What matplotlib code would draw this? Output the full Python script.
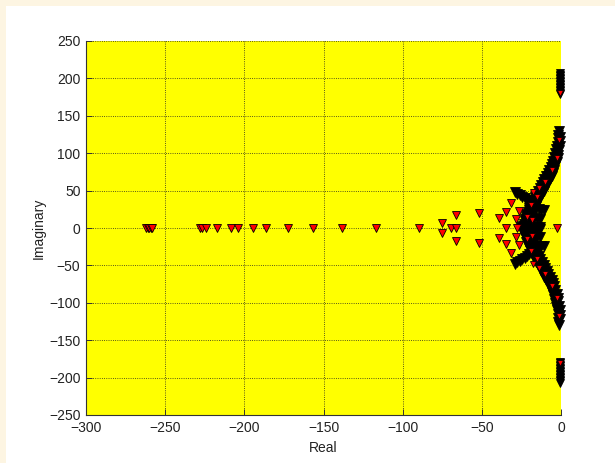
import matplotlib
matplotlib.use("Agg")
import matplotlib.pyplot as plt
from matplotlib.patches import Rectangle

plt.rcParams['font.family'] = ['Liberation Sans', 'DejaVu Sans']

# closed-loop poles
# poles sitting on the real axis
real_re = [-262, -261, -260, -259, -258, -228, -226.5, -224, -217, -208.6,
           -204, -194.3, -186.3, -172.2, -156.8, -138.3, -117, -89.4,
           -69.6, -66.3, -35, -28, -2.6]

# isolated complex pairs (upper half, conjugates drawn too)
pair_re = [-75.3, -66.3, -52, -39, -34.7, -31.8, -26.5, -28.4]
pair_im = [7, 17, 20, 14, 21, 33, 23, 11.6]

# dense branch towards the imaginary axis (upper half)
band_re = [-24, -23.5, -23, -22.5, -22, -21.5, -21, -20.5, -20, -19.5,
           -18.5, -17.5, -16.5, -15.5, -14.5, -13.5, -12.5, -11.5, -10.5,
           -9.5, -8.5, -7.5, -6.5, -5.5, -4.8, -4.2, -3.6, -3.0, -2.6, -2.2,
           -1.9, -1.6, -1.3,
           -20, -19.5, -19, -18.5, -18, -17, -16, -15, -14, -13, -12, -11,
           -10, -9, -8, -7, -6, -5, -4.2, -3.5, -2.8, -2.2, -1.6, -1.2,
           -0.9, -0.7, -0.6,
           -29, -27.5, -26, -24.5, -23, -21.5, -20,
           -19, -17, -15, -13,
           -17, -15, -13,
           -14, -12.5, -11,
           -25, -22, -21.8, -18.2, -15.8, -13.2, -10.8, -8.2, -5.8]
band_im = [3, 6, 9, 12, 15, 18, 21, 24, 27, 30,
           34, 38, 42, 46, 50, 54, 58, 62, 66,
           70, 74, 78, 82, 86, 90, 95, 100, 105, 110, 115,
           120, 125, 130,
           3, 7, 11, 15, 19, 24, 29, 34, 38, 42, 46, 50,
           54, 58, 62, 66, 70, 74, 78, 83, 88, 93, 98, 104,
           110, 116, 122,
           48, 46, 44, 42, 40, 38, 35,
           13.5, 13, 12.5, 12,
           1.5, 1.5, 1.5,
           25, 24.5, 24,
           1, 1, 19, 32, 40, 50, 60, 70, 80]

# cluster right on the imaginary axis near +/-190
top_re = [-0.8] * 15
top_im = [179, 181, 183, 185, 187, 189, 191, 193, 195, 197, 199, 201, 203,
          205, 207]

# red faces still showing inside the dense branch
spot_re = [-17.4, -13.7, -10, -5.9, -2.3, -15.4, -19.2, -21.6, -18.5, -1.2,
           -0.8]
spot_im = [48.5, 53, 62, 77.5, 93, 42, 30.7, 15, 10.7, 118, 180]

fig = plt.figure(figsize=(6.15, 4.63), dpi=100, facecolor='#fdf5e2')
fig.patches.append(Rectangle((6 / 615, 0), 1, 1 - 6 / 463,
                             transform=fig.transFigure, facecolor='white',
                             edgecolor='none', zorder=-5))
ax = fig.add_axes([86 / 615, 48 / 463, 475 / 615, 374 / 463])
ax.set_facecolor('#ffff00')

mk = dict(marker='v', linestyle='none', markeredgewidth=0.6,
          markeredgecolor='k', clip_on=False)

# overlapping markers in the dense parts look solid black
ax.plot(band_re, band_im, markerfacecolor='k', markersize=6.5, **mk)
ax.plot(band_re, [-v for v in band_im], markerfacecolor='k', markersize=6.5, **mk)
ax.plot(top_re, top_im, markerfacecolor='k', markersize=6, **mk)
ax.plot(top_re, [-v for v in top_im], markerfacecolor='k', markersize=6, **mk)

red = dict(markerfacecolor='#ff0000', markersize=5.5, **mk)
ax.plot(real_re, [0] * len(real_re), **red)
ax.plot(pair_re, pair_im, **red)
ax.plot(pair_re, [-v for v in pair_im], **red)
ax.plot(spot_re, spot_im, markerfacecolor='#ff0000', markersize=4, **mk)
ax.plot(spot_re, [-v for v in spot_im], markerfacecolor='#ff0000',
        markersize=4, **mk)

ax.set_xlim(-300, 0)
ax.set_ylim(-250, 250)
ax.set_xticks(range(-300, 1, 50))
ax.set_yticks(range(-250, 251, 50))
ax.grid(True, linestyle=':', color='#222222', linewidth=0.6)
ax.set_axisbelow(True)

for s in ['top', 'right']:
    ax.spines[s].set_visible(False)
for s in ['left', 'bottom']:
    ax.spines[s].set_color('#333333')
    ax.spines[s].set_linewidth(0.8)
ax.tick_params(direction='in', length=4, width=0.7, colors='#333333',
               labelcolor='#222222', labelsize=10, pad=4)

ax.set_xlabel('Real', fontsize=10, color='#222222')
ax.set_ylabel('Imaginary', fontsize=10, color='#222222')
ax.xaxis.set_label_coords(0.5, -0.07)
ax.yaxis.set_label_coords(-0.085, 0.5)

fig.savefig('out.png', dpi=100, facecolor=fig.get_facecolor())
